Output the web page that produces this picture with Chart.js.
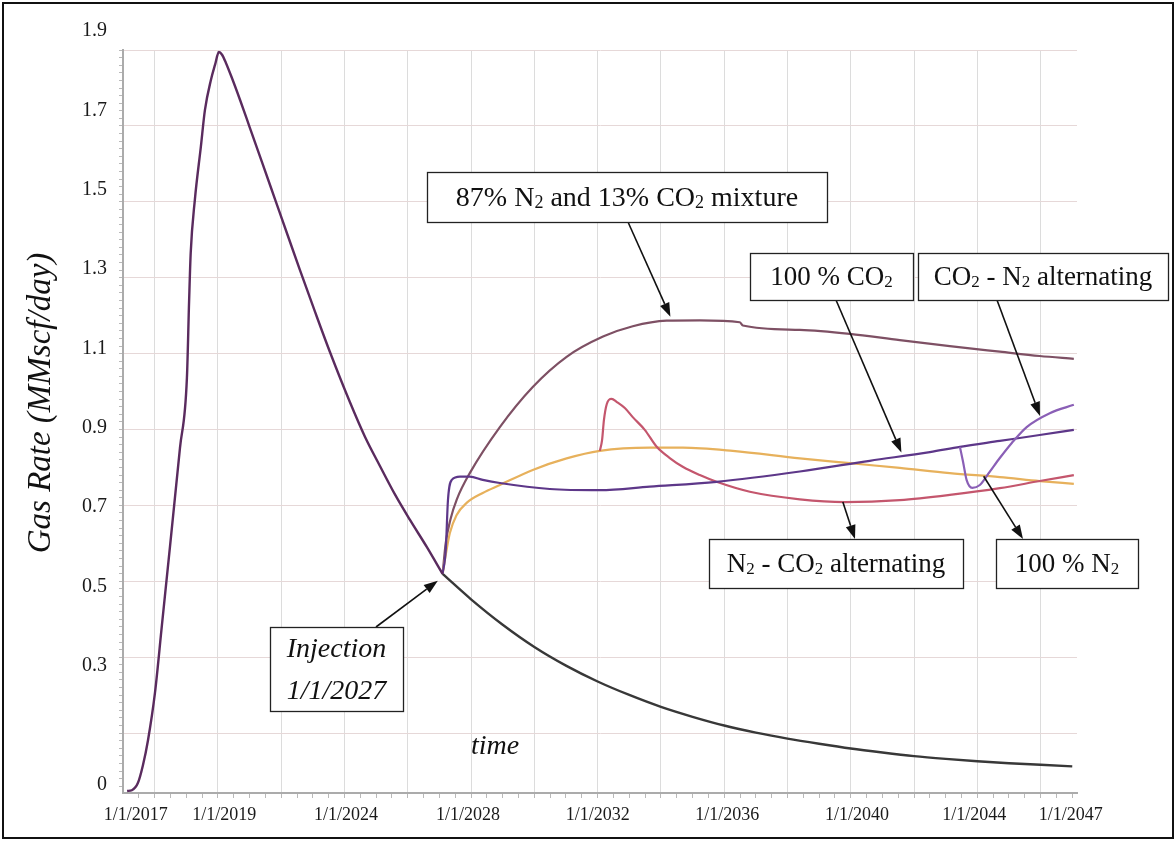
<!DOCTYPE html>
<html>
<head>
<meta charset="utf-8">
<script src="https://cdn.jsdelivr.net/npm/chart.js@4.4.1/dist/chart.umd.min.js"></script>
<style>
  html, body { margin: 0; padding: 0; background: #fff; }
  #wrap { width: 1176px; height: 841px; position: relative; }
  canvas { display: block; }
</style>
</head>
<body>
<div id="wrap"><canvas id="chart" width="1176" height="841"></canvas></div>
<script>
// ---- Gas rate (MMscf/day) against time (years) ----

// Production history up to the start of injection
const historyYear = [2017.13, 2017.28, 2017.47, 2017.63, 2017.79, 2018.01, 2018.23, 2018.48, 2018.80, 2019.02,
  2019.09, 2019.14, 2019.27, 2019.46, 2019.59, 2019.78, 2019.91, 2020.03, 2020.13, 2020.25, 2020.44, 2020.70,
  2021.01, 2021.39, 2021.80, 2022.21, 2022.59, 2023.07, 2023.54, 2024.17, 2024.65, 2025.12, 2025.59, 2026.07,
  2026.60, 2027.10];
const historyRate = [-0.015, -0.013, 0.005, 0.050, 0.113, 0.232, 0.403, 0.597, 0.849, 1.026,
  1.222, 1.341, 1.474, 1.608, 1.701, 1.777, 1.815, 1.847, 1.840, 1.820, 1.782, 1.726,
  1.656, 1.570, 1.477, 1.384, 1.298, 1.192, 1.091, 0.965, 0.877, 0.804, 0.733, 0.668,
  0.600, 0.532];

// No injection: natural decline
const declineYear = [2027.1, 2028, 2029, 2030, 2031, 2032, 2033, 2034, 2035, 2036, 2037, 2038, 2039, 2040,
  2041, 2042, 2043, 2044, 2045, 2046, 2047];
const declineRate = [0.532, 0.468, 0.404, 0.348, 0.301, 0.261, 0.227, 0.197, 0.172, 0.150, 0.132, 0.117, 0.104,
  0.092, 0.082, 0.073, 0.066, 0.060, 0.055, 0.051, 0.047];

// 87% N2 and 13% CO2 mixture
const mixYear = [2027.1, 2027.2, 2027.35, 2027.55, 2027.96, 2028.91, 2029.95, 2031.02, 2032.17, 2033.11, 2034.18,
  2035.23, 2036.49, 2036.59, 2038.39, 2039.97, 2041.55, 2043.13, 2044.71, 2045.97, 2047.05];
const mixRate = [0.532, 0.610, 0.670, 0.720, 0.786, 0.902, 1.003, 1.079, 1.130, 1.156, 1.170,
  1.171, 1.166, 1.158, 1.147, 1.137, 1.121, 1.106, 1.092, 1.081, 1.074];

// 100 % CO2
const co2Year = [2027.1, 2027.2, 2027.27, 2027.39, 2027.65, 2027.96, 2028.37, 2028.91, 2030.49, 2032.07, 2033.65,
  2035.76, 2038.39, 2040.60, 2042.50, 2043.45, 2044.71, 2045.97, 2047.05];
const co2Rate = [0.532, 0.592, 0.718, 0.769, 0.777, 0.777, 0.769, 0.761, 0.746, 0.743, 0.752,
  0.764, 0.790, 0.817, 0.839, 0.852, 0.867, 0.882, 0.895];

// CO2 - N2 alternating (leaves the CO2 path at the switch)
const co2n2Year = [2043.45, 2043.55, 2043.66, 2043.84, 2044.08, 2044.39, 2044.71, 2045.09, 2045.56, 2046.29, 2047.05];
const co2n2Rate = [0.852, 0.814, 0.769, 0.749, 0.756, 0.789, 0.824, 0.862, 0.902, 0.937, 0.958];

// 100 % N2
const n2Year = [2027.1, 2027.2, 2027.33, 2027.54, 2027.86, 2028.37, 2028.91, 2029.95, 2031.02, 2032.07, 2033.65,
  2034.69, 2036.27, 2038.39, 2039.97, 2041.55, 2043.13, 2044.71, 2045.97, 2047.05];
const n2Rate = [0.532, 0.580, 0.635, 0.680, 0.711, 0.736, 0.756, 0.794, 0.823, 0.842, 0.850,
  0.850, 0.842, 0.823, 0.811, 0.799, 0.786, 0.776, 0.766, 0.759];

// N2 - CO2 alternating (leaves the N2 path at the switch)
const n2co2Year = [2032.07, 2032.14, 2032.20, 2032.29, 2032.44, 2032.61, 2032.86, 2033.11, 2033.49, 2033.86, 2034.28,
  2034.69, 2035.23, 2035.76, 2036.81, 2038.39, 2039.81, 2041.55, 2043.13, 2044.71, 2045.97, 2047.05];
const n2co2Rate = [0.842, 0.869, 0.920, 0.960, 0.973, 0.965, 0.950, 0.927, 0.895, 0.853, 0.824,
  0.802, 0.781, 0.764, 0.739, 0.720, 0.713, 0.718, 0.731, 0.748, 0.766, 0.781];

// Axis labels
const yTickValues = [0, 0.3, 0.5, 0.7, 0.9, 1.1, 1.3, 1.5, 1.7, 1.9];
const xTickYears = [2017.4, 2020.2, 2024.05, 2027.9, 2032.0, 2036.1, 2040.2, 2043.9, 2046.95];
const xTickLabels = ['1/1/2017', '1/1/2019', '1/1/2024', '1/1/2028', '1/1/2032', '1/1/2036', '1/1/2040', '1/1/2044', '1/1/2047'];

const pairs = (xs, ys) => xs.map((x, i) => ({ x: x, y: ys[i] }));

// ---- scale geometry ----
const X_MIN = 2017, X_MAX = 2047.15;
const Y_MIN = -0.02, Y_MAX = 1.852;
const Y_GRID_START = 0.131, Y_GRID_STEP = 0.1912;

const SERIF = "'Liberation Serif', 'Times New Roman', serif";

function yTicks(scale) {
  const t = [];
  for (let k = -10; k <= 100; k++) {
    const v = Y_GRID_START + k * Y_GRID_STEP / 10;
    if (v < Y_MIN - 1e-9 || v > Y_MAX + 1e-9) continue;
    t.push({ value: v, kind: (k % 10 === 0) ? 'grid' : 'minor' });
  }
  yTickValues.forEach(v => t.push({ value: v, kind: 'label', text: String(v) }));
  t.sort((a, b) => a.value - b.value);
  scale.ticks = t;
}

function xTicks(scale) {
  const t = [];
  for (let y = 2017.5; y <= 2047.01; y += 0.5) {
    const even = Math.abs(y - Math.round(y)) < 1e-9 && Math.round(y) % 2 === 0;
    t.push({ value: y, kind: even ? 'grid' : 'minor' });
  }
  xTickYears.forEach((v, i) => t.push({ value: v, kind: 'label', text: xTickLabels[i] }));
  t.sort((a, b) => a.value - b.value);
  scale.ticks = t;
}

const gridColorFor = (hGrid) => (ctx) =>
  (ctx.tick && ctx.tick.kind === 'grid') ? hGrid : 'rgba(0,0,0,0)';
const tickColor = (ctx) =>
  (ctx.tick && ctx.tick.kind !== 'label') ? '#b9b9b9' : 'rgba(0,0,0,0)';

// ---- call-outs drawn over the plot ----
const callouts = [
  { x: 427, y: 172, w: 400, h: 50, text: '87% N_2 and 13% CO_2 mixture', size: 28 },
  { x: 750, y: 253, w: 163, h: 47, text: '100 % CO_2', size: 27 },
  { x: 918, y: 253, w: 250, h: 47, text: 'CO_2 - N_2 alternating', size: 27 },
  { x: 709, y: 539, w: 254, h: 49, text: 'N_2 - CO_2 alternating', size: 27 },
  { x: 996, y: 539, w: 142, h: 49, text: '100 % N_2', size: 27 },
  { x: 270, y: 627, w: 133, h: 84, lines: ['Injection', '1/1/2027'], size: 28, italic: true }
];
const arrows = [
  { from: { px: [628, 222] }, to: { data: [2034.3, 1.18] } },
  { from: { px: [836, 300] }, to: { data: [2041.6, 0.838] } },
  { from: { px: [997, 300] }, to: { data: [2045.98, 0.93] } },
  { from: { data: [2039.75, 0.713] }, to: { px: [855, 539] } },
  { from: { data: [2044.2, 0.778] }, to: { px: [1023, 539] } },
  { from: { px: [376, 627] }, to: { data: [2026.95, 0.515] } }
];

function drawRich(ctx, str, cx, cy, size, italic) {
  const parts = str.split(/_(\d)/);
  const big = (italic ? 'italic ' : '') + size + 'px ' + SERIF;
  const small = (italic ? 'italic ' : '') + Math.round(size * 0.64) + 'px ' + SERIF;
  let total = 0;
  parts.forEach((p, i) => { ctx.font = (i % 2) ? small : big; total += ctx.measureText(p).width; });
  let x = cx - total / 2;
  const base = cy + size * 0.33;
  ctx.textAlign = 'left';
  ctx.textBaseline = 'alphabetic';
  parts.forEach((p, i) => {
    ctx.font = (i % 2) ? small : big;
    ctx.fillText(p, x, (i % 2) ? base + 2 : base);
    x += ctx.measureText(p).width;
  });
}

function resolve(chart, p) {
  if (p.data) return [chart.scales.x.getPixelForValue(p.data[0]), chart.scales.y.getPixelForValue(p.data[1])];
  return p.px;
}

const annotate = {
  id: 'annotate',
  afterDraw(chart) {
    const ctx = chart.ctx;
    ctx.save();
    ctx.fillStyle = '#111';
    ctx.strokeStyle = '#111';

    // arrows
    arrows.forEach(a => {
      const [x0, y0] = resolve(chart, a.from);
      const [x1, y1] = resolve(chart, a.to);
      const ang = Math.atan2(y1 - y0, x1 - x0);
      const len = 14, half = 5;
      const bx = x1 - len * Math.cos(ang), by = y1 - len * Math.sin(ang);
      ctx.lineWidth = 1.6;
      ctx.beginPath(); ctx.moveTo(x0, y0); ctx.lineTo(bx, by); ctx.stroke();
      ctx.beginPath();
      ctx.moveTo(x1, y1);
      ctx.lineTo(bx + half * Math.sin(ang), by - half * Math.cos(ang));
      ctx.lineTo(bx - half * Math.sin(ang), by + half * Math.cos(ang));
      ctx.closePath(); ctx.fill();
    });

    // boxes
    callouts.forEach(b => {
      ctx.fillStyle = '#fff';
      ctx.fillRect(b.x, b.y, b.w, b.h);
      ctx.lineWidth = 1.3;
      ctx.strokeStyle = '#222';
      ctx.strokeRect(b.x + 0.5, b.y + 0.5, b.w, b.h);
      ctx.fillStyle = '#111';
      if (b.lines) {
        const gap = b.h / b.lines.length;
        b.lines.forEach((ln, i) => drawRich(ctx, ln, b.x + b.w / 2, b.y + gap * (i + 0.5), b.size, b.italic));
      } else {
        drawRich(ctx, b.text, b.x + b.w / 2, b.y + b.h / 2, b.size, b.italic);
      }
    });

    // in-plot axis caption
    ctx.fillStyle = '#111';
    drawRich(ctx, 'time', 495, 745, 28, true);

    // vertical axis title
    ctx.save();
    ctx.translate(50, 403);
    ctx.rotate(-Math.PI / 2);
    ctx.font = 'italic 33px ' + SERIF;
    ctx.textAlign = 'center';
    ctx.textBaseline = 'alphabetic';
    ctx.fillText('Gas Rate (MMscf/day)', 0, 0);
    ctx.restore();

    // outer frame
    ctx.lineWidth = 2;
    ctx.strokeStyle = '#111';
    ctx.strokeRect(3, 3, 1170, 835);
    ctx.restore();
  }
};

const lineStyle = (color, width) => ({
  borderColor: color, backgroundColor: color, borderWidth: width,
  pointRadius: 0, pointHoverRadius: 0, fill: false, cubicInterpolationMode: 'monotone'
});

new Chart(document.getElementById('chart'), {
  type: 'line',
  data: {
    datasets: [
      Object.assign({ label: 'History', data: pairs(historyYear, historyRate) }, lineStyle('#5a2b5e', 2.4)),
      Object.assign({ label: 'CO2 - N2 alternating', data: pairs(co2n2Year, co2n2Rate) }, lineStyle('#8a5fb6', 2.2)),
      Object.assign({ label: '100 % CO2', data: pairs(co2Year, co2Rate) }, lineStyle('#5d3789', 2.2)),
      Object.assign({ label: 'N2 - CO2 alternating', data: pairs(n2co2Year, n2co2Rate) }, lineStyle('#c4566d', 2.2)),
      Object.assign({ label: '100 % N2', data: pairs(n2Year, n2Rate) }, lineStyle('#e7b15c', 2.2)),
      Object.assign({ label: '87% N2 and 13% CO2 mixture', data: pairs(mixYear, mixRate) }, lineStyle('#7e5064', 2.2)),
      Object.assign({ label: 'No injection', data: pairs(declineYear, declineRate) }, lineStyle('#383838', 2.4))
    ]
  },
  options: {
    responsive: false,
    animation: false,
    devicePixelRatio: 1,
    layout: { padding: { left: 0, top: 50, right: 99, bottom: 0 } },
    plugins: { legend: { display: false }, tooltip: { enabled: false } },
    scales: {
      x: {
        type: 'linear', min: X_MIN, max: X_MAX, bounds: 'data',
        afterBuildTicks: xTicks,
        afterFit: s => { s.height = 48; },
        border: { display: true, color: '#ababab', width: 2 },
        grid: { color: gridColorFor('#dcdcdc'), tickColor: tickColor, tickLength: 5, lineWidth: 1 },
        ticks: {
          autoSkip: false, maxRotation: 0, minRotation: 0, padding: 6,
          color: '#1a1a1a', font: { family: SERIF, size: 18 },
          callback: (v, i, t) => t[i].kind === 'label' ? t[i].text : ''
        }
      },
      y: {
        type: 'linear', min: Y_MIN, max: Y_MAX, bounds: 'data',
        afterBuildTicks: yTicks,
        afterFit: s => { s.width = 123; },
        border: { display: true, color: '#ababab', width: 2 },
        grid: { color: gridColorFor('#e6d8d8'), tickColor: tickColor, tickLength: 4, lineWidth: 1 },
        ticks: {
          autoSkip: false, padding: 12,
          color: '#1a1a1a', font: { family: SERIF, size: 20 },
          callback: (v, i, t) => t[i].kind === 'label' ? t[i].text : ''
        }
      }
    }
  },
  plugins: [annotate]
});
</script>
</body>
</html>
